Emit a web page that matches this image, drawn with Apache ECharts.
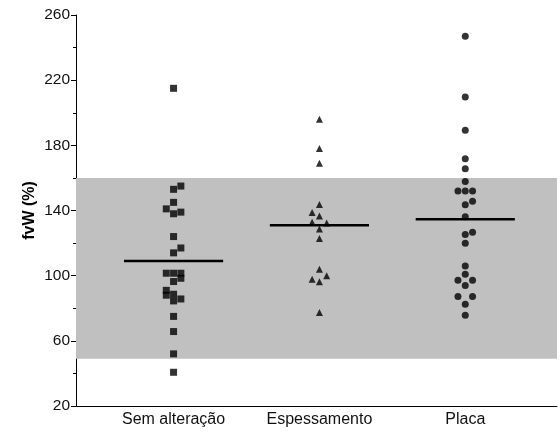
<!DOCTYPE html>
<html>
<head>
<meta charset="utf-8">
<script src="https://cdn.jsdelivr.net/npm/echarts@6/dist/echarts.min.js"></script>
<style>html,body{margin:0;padding:0;background:#fff}#c{width:560px;height:435px}</style>
</head>
<body>
<div id="c"></div>
<script>
var categories = ["Sem alteração", "Espessamento", "Placa"];
var yTicks = [20, 60, 100, 140, 180, 220, 260];
var normalRange = [49, 160];

var semValues  = [215,155,153,145,141,138,139,124,117,114,101.5,101.5,101.5,98.4,96.4,91,88,88.6,84.5,85.7,75,65.7,52,40.7];
var semJitter  = [0,1,0,0,-1,0,1,0,1,0,-1,0,1,1,0,-1,-1,0,0,1,0,0,0,0];
var espValues  = [196,178,169,143.7,138.8,136.7,132.8,132.4,128.7,122.8,104,99.9,97.8,96.2,77.4];
var espJitter  = [0,0,0,0,-1,0,-1,1,0,0,0,1,-1,0,0];
var plaValues  = [247,209.6,189.2,171.7,165.6,157.8,152,152,152,145.7,143.5,136.1,126.7,125.3,119.9,106,100.9,97.2,97.2,94,87.2,87.2,82.5,75.7];
var plaJitter  = [0,0,0,0,0,0,-1,0,1,1,0,0,1,0,0,0,0,-1,1,0,-1,1,0,0];
var medians    = [109, 131, 134.7];

var JIT = 0.05, HALF = 0.34;
function pts(vals, jit, c) {
  return vals.map(function (v, i) { return [c + jit[i] * JIT, v]; });
}
var groups = [[semValues, semJitter, 'rect', 7], [espValues, espJitter, 'triangle', 7], [plaValues, plaJitter, 'circle', 7]];
var series = [];
series.push({
  type: 'scatter', data: [], silent: true,
  markArea: {
    silent: true,
    itemStyle: { color: '#c0c0c0' },
    data: [[{ yAxis: normalRange[0] }, { yAxis: normalRange[1] }]]
  }
});
groups.forEach(function (g, k) {
  series.push({
    type: 'scatter', symbol: g[2], symbolSize: g[3], z: 3,
    itemStyle: { color: '#000' },
    data: pts(g[0], g[1], k + 1)
  });
});
medians.forEach(function (m, k) {
  series.push({
    type: 'line', symbol: 'none', z: 4,
    lineStyle: { color: '#000', width: 2.5 },
    data: [[k + 1 - HALF, m], [k + 1 + HALF, m]]
  });
});

var chart = echarts.init(document.getElementById('c'), null, { renderer: 'canvas' });
chart.setOption({
  animation: false,
  backgroundColor: '#fff',
  textStyle: { fontFamily: 'Liberation Sans' },
  grid: { left: 76, right: 3, top: 15, bottom: 29, containLabel: false },
  xAxis: {
    type: 'value', min: 0.331, max: 3.629,
    splitLine: { show: false },
    axisLine: { show: true, onZero: false, lineStyle: { color: '#000', width: 1 } },
    axisTick: { show: false },
    axisLabel: {
      customValues: [1, 2, 3],
      formatter: function (v) { return categories[Math.round(v) - 1]; },
      color: '#111', fontSize: 16, margin: 6, fontFamily: 'Liberation Sans'
    }
  },
  yAxis: {
    type: 'value', min: yTicks[0], max: yTicks[yTicks.length - 1], interval: 40,
    name: 'fvW (%)', nameLocation: 'middle', nameGap: 38, nameMoveOverlap: false,
    nameTextStyle: { fontSize: 16, fontWeight: 'bold', color: '#000', fontFamily: 'Liberation Sans' },
    splitLine: { show: false },
    axisLine: { show: true, lineStyle: { color: '#000', width: 1 } },
    axisTick: { show: true, length: 5, inside: false, lineStyle: { color: '#000' } },
    minorTick: { show: true, splitNumber: 2, length: 3, lineStyle: { color: '#000' } },
    axisLabel: { color: '#111', fontSize: 15.5, margin: 6, fontFamily: 'Liberation Sans' }
  },
  series: series
});
</script>
</body>
</html>
